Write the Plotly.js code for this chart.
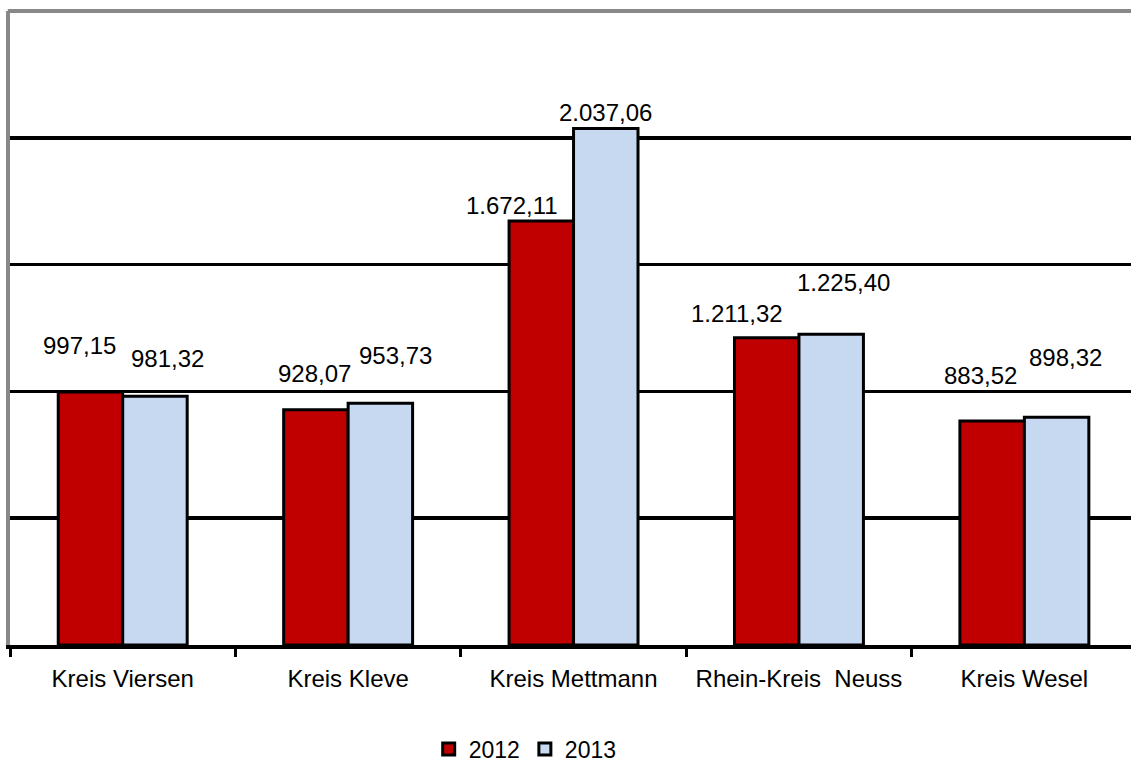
<!DOCTYPE html>
<html>
<head>
<meta charset="utf-8">
<script src="https://cdn.plot.ly/plotly-3.0.1.min.js"></script>
<style>
  html, body { margin: 0; padding: 0; background: #ffffff; overflow: hidden; }
  #chart { width: 1131px; height: 765px; }
</style>
</head>
<body>
<div id="chart"></div>
<script>
// Kreise / districts on the category axis
const districts = ['Kreis Viersen', 'Kreis Kleve', 'Kreis Mettmann', 'Rhein-Kreis  Neuss', 'Kreis Wesel'];
const seriesNames = ['2012', '2013'];
const values2012 = [997.15, 928.07, 1672.11, 1211.32, 883.52];
const values2013 = [981.32, 953.73, 2037.06, 1225.40, 898.32];
const gridValues = [500, 1000, 1500, 2000];

// Placement of each value label, in pixels: [dx from group centre, dy above bar top]
const labelNudge2012 = [[-43, 47], [-34, 36], [-62, 15], [-62, 24], [-44, 45]];
const labelNudge2013 = [[45, 38], [47, 48], [32, 16], [45, 52], [41, 60]];

const FONT = 'Liberation Sans, Arial, sans-serif';
const RED = '#C00000';
const BLUE = '#C6D9F0';

// German number format: 1.672,11
function deFormat(v) {
  const parts = v.toFixed(2).split('.');
  const intPart = parts[0].replace(/\B(?=(\d{3})+(?!\d))/g, '.');
  return intPart + ',' + parts[1];
}

const barLine = { color: '#000000', width: 3 };

const traces = [
  {
    type: 'bar', name: seriesNames[0], x: districts, y: values2012,
    marker: { color: RED, line: barLine }, hoverinfo: 'skip'
  },
  {
    type: 'bar', name: seriesNames[1], x: districts, y: values2013,
    marker: { color: BLUE, line: barLine }, hoverinfo: 'skip'
  }
];

const annotations = [];
function addLabels(vals, nudges) {
  vals.forEach((v, i) => {
    annotations.push({
      x: districts[i], y: v, xref: 'x', yref: 'y',
      text: deFormat(v), showarrow: false,
      xanchor: 'center', yanchor: 'middle',
      xshift: nudges[i][0], yshift: nudges[i][1],
      font: { family: FONT, size: 24, color: '#000000' }
    });
  });
}
addLabels(values2012, labelNudge2012);
addLabels(values2013, labelNudge2013);

const layout = {
  width: 1131, height: 765,
  margin: { l: 10, r: 0, t: 11, b: 120, pad: 0, autoexpand: false },
  paper_bgcolor: '#ffffff', plot_bgcolor: '#ffffff',
  font: { family: FONT, size: 24, color: '#000000' },
  barmode: 'group', bargap: 0.428, bargroupgap: 0,
  showlegend: true,
  legend: {
    orientation: 'h', x: 0.3735, xanchor: 'left', y: -0.164, yanchor: 'middle',
    font: { family: FONT, size: 23, color: '#000000' },
    itemwidth: 30, bgcolor: 'rgba(0,0,0,0)', traceorder: 'normal'
  },
  xaxis: {
    type: 'category', range: [-0.5, 4.473], automargin: false,
    tickson: 'boundaries', ticks: 'outside', ticklen: 8, tickwidth: 3, tickcolor: '#000000',
    showline: true, linecolor: '#000000', linewidth: 3.5,
    showgrid: false, zeroline: false, fixedrange: true,
    ticklabelstandoff: 10,
    tickfont: { family: FONT, size: 24, color: '#000000' }
  },
  yaxis: {
    range: [0, 2500], tickvals: gridValues, showticklabels: false, ticks: '',
    showgrid: true, gridcolor: '#000000', gridwidth: 3.5, automargin: false,
    showline: true, linecolor: '#888888', linewidth: 4,
    zeroline: false, fixedrange: true
  },
  shapes: [
    { type: 'line', xref: 'paper', yref: 'paper', x0: -0.002, x1: 1, y0: 1, y1: 1,
      line: { color: '#888888', width: 4 } }
  ],
  annotations: annotations
};

Plotly.newPlot('chart', traces, layout, { displayModeBar: false, staticPlot: true });
</script>
</body>
</html>
